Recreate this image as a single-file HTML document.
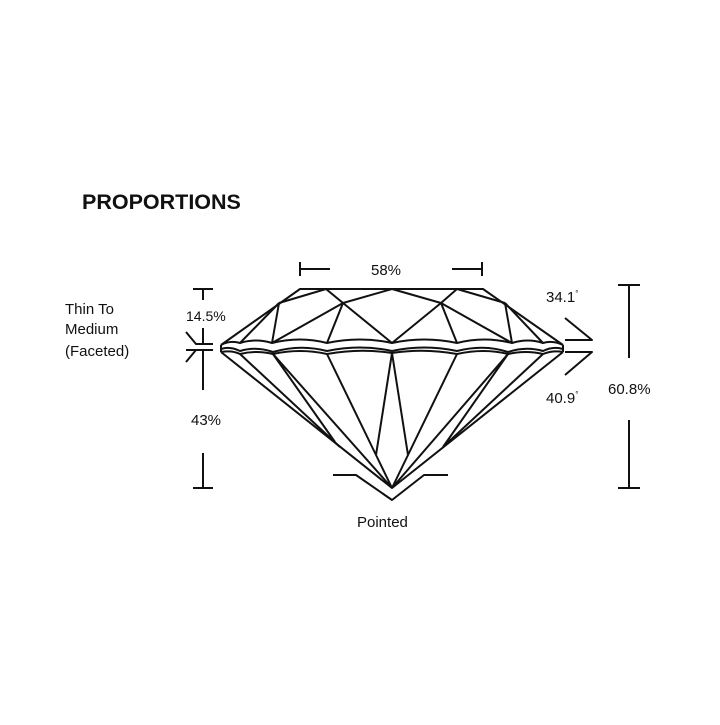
<!DOCTYPE html>
<html><head><style>
body{margin:0;background:#fff;}
svg text{font-family:"Liberation Sans",sans-serif;fill:#111;}
</style></head><body>
<svg width="720" height="720" viewBox="0 0 720 720" xmlns="http://www.w3.org/2000/svg">
<rect width="720" height="720" fill="#fff"/>
<text x="82" y="209" font-size="21.5" font-weight="bold">PROPORTIONS</text>
<g stroke="#111" stroke-width="2" fill="none" stroke-linejoin="round">
<path d="M300 262V276M300 269H330M452 269H482M482 262V276"/>
<path d="M193 289H213M203 289V300M203 328V344M186 332L196 344H213M186 350H213M196 350L186 362M203 350V390M203 453V488M193 488H213"/>
<path d="M618 285H640M629 285V358M629 420V488M618 488H640"/>
<path d="M565 318L592 340H565M565 352H592L565 375"/>
<path d="M333 475H356L392 500L424 475H448"/>
<!-- crown -->
<path d="M221 345L300 289H483L563 345"/>
<path d="M326 289L279 303M326 289L343 303M392 289L343 303M392 289L441 303M457 289L441 303M457 289L505 303"/>
<path d="M279 303L272 343M279 303L240 343M343 303L272 343M343 303L327 343M343 303L392 343L441 303M441 303L457 343M441 303L512 343M505 303L512 343M505 303L543 343"/>
<!-- girdle -->
<path d="M221 345Q230 340 240 343Q256 338 272 343Q300 336 327 343Q360 336 392 343Q424 336 457 343Q484 336 512 343Q528 338 543 343Q553 340 563 345"/>
<path d="M221 345V352M563 345V352"/>
<path d="M221 349Q230 346 240 351Q256 346 273 352Q300 344 327 351Q360 344 392 351Q424 344 457 351Q484 344 508 352Q526 346 543 351Q553 346 563 349"/>
<path d="M221 352Q232 350 240 354Q256 350 273 354Q300 348 327 354Q360 348 392 353Q424 348 457 354Q484 348 508 354Q526 350 543 354Q553 350 563 352"/>
<!-- pavilion -->
<path d="M221 352L392 488L563 352"/>
<path d="M240 354L340 447M273 354L392 488M273 354L335 442M327 354L376 455M392 353L376 455L392 488M392 353L408 455L392 488M457 354L408 455M508 354L392 488M508 354L443 447M543 354L443 447"/>
</g>
<g font-size="15">
<text x="65" y="314">Thin To</text>
<text x="65" y="334">Medium</text>
<text x="65" y="356">(Faceted)</text>
<text x="186" y="321" font-size="14">14.5%</text>
<text x="191" y="425">43%</text>
<text x="371" y="275">58%</text>
<text x="546" y="302">34.1<tspan font-size="8" dy="-6">°</tspan></text>
<text x="546" y="403">40.9<tspan font-size="8" dy="-6">°</tspan></text>
<text x="608" y="394">60.8%</text>
<text x="357" y="527">Pointed</text>
</g>
</svg>
</body></html>
